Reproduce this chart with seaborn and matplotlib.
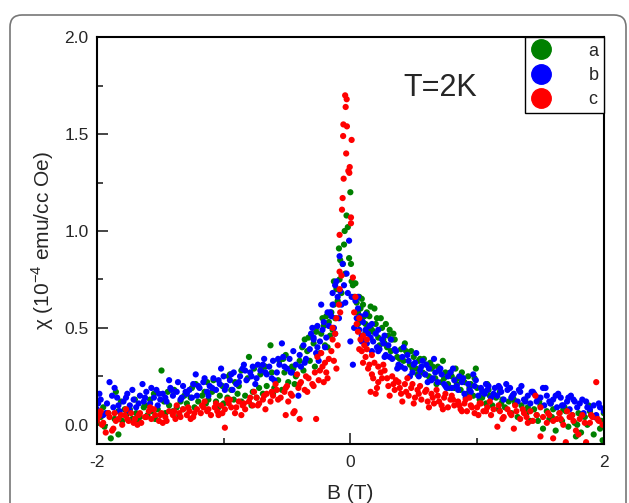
import matplotlib
matplotlib.use('Agg')
import matplotlib.pyplot as plt
from matplotlib.lines import Line2D
from matplotlib.patches import FancyBboxPatch
from matplotlib.transforms import IdentityTransform
from matplotlib.ticker import MultipleLocator
import pandas as pd
import seaborn as sns

# sample a (green) --------------------------------------------------------
a_B_left = [-2.00, -1.97, -1.94, -1.91, -1.89, -1.86, -1.83, -1.80, -1.77, -1.74,
            -1.72, -1.69, -1.66, -1.63, -1.60, -1.57, -1.54, -1.52, -1.49, -1.46,
            -1.43, -1.40, -1.37, -1.34, -1.32, -1.29, -1.26, -1.23, -1.20, -1.17,
            -1.14, -1.12, -1.09, -1.06, -1.03, -1.00, -0.97, -0.94, -0.92, -0.89,
            -0.86, -0.83, -0.80, -0.77, -0.74, -0.72, -0.69, -0.66, -0.63, -0.60,
            -0.57, -0.54, -0.52, -0.49, -0.46, -0.43, -0.40, -0.37, -0.34, -0.32,
            -0.29, -0.26, -0.23, -0.20, -0.17]
a_chi_left = [0.01, 0.04, -0.01, 0.06, -0.07, 0.03, 0.07, 0.02, 0.05, 0.08,
              0.03, 0.06, 0.04, 0.09, 0.05, 0.07, 0.03, 0.08, 0.28, 0.06,
              0.10, 0.07, 0.09, 0.12, 0.08, 0.11, 0.14, 0.09, 0.12, 0.15,
              0.11, 0.13, 0.17, 0.12, 0.15, 0.11, 0.14, 0.18, 0.13, 0.16,
              0.12, 0.15, 0.35, 0.17, 0.14, 0.19, 0.16, 0.20, 0.41, 0.19,
              0.23, 0.18, 0.27, 0.22, 0.30, 0.25, 0.33, 0.28, 0.38, 0.33,
              0.42, 0.36, 0.47, 0.41, 0.53]
a_B_upper = [-1.85, -1.78, -1.70, -1.62, -1.55, -1.47, -1.39, -1.31, -1.22, -1.15,
             -1.08, -1.01, -0.95, -0.91, -0.86, -0.81, -0.76, -0.71, -0.67, -0.62,
             -0.56, -0.51, -0.45, -0.38, -0.33, -0.27, -0.21, -1.83]
a_chi_upper = [0.17, 0.08, 0.13, 0.10, 0.16, 0.12, 0.18, 0.15, 0.21, 0.17,
               0.23, 0.20, 0.26, 0.22, 0.28, 0.24, 0.29, 0.26, 0.30, 0.27,
               0.33, 0.36, 0.29, 0.40, 0.45, 0.48, 0.51, -0.05]
a_B_mid = [-0.15, -0.14, -0.13, -0.12, -0.11, -0.10, -0.09, -0.085, -0.08, -0.07,
           -0.06, -0.05, -0.045, -0.04, -0.03, -0.02, -0.01, 0.00, 0.005, 0.01,
           0.02, 0.03, 0.04, 0.05, 0.06, 0.07, 0.08, 0.09, 0.10, 0.11,
           0.12, 0.13, 0.14]
a_chi_mid = [0.58, 0.49, 0.62, 0.55, 0.70, 0.64, 0.91, 0.75, 0.85, 0.68,
             0.83, 0.93, 1.00, 0.78, 1.08, 1.02, 0.86, 1.20, 0.83, 0.74,
             0.72, 0.66, 0.73, 0.63, 0.58, 0.66, 0.60, 0.54, 0.62, 0.56,
             0.52, 0.58, 0.50]
a_B_right = [0.15, 0.17, 0.20, 0.22, 0.25, 0.27, 0.30, 0.32, 0.35, 0.37,
             0.40, 0.42, 0.45, 0.47, 0.50, 0.52, 0.55, 0.57, 0.60, 0.62,
             0.65, 0.67, 0.70, 0.72, 0.75, 0.77, 0.80, 0.82, 0.85, 0.87,
             0.90, 0.92, 0.95, 0.97, 1.00, 1.02, 1.05, 1.07, 1.10, 1.12,
             1.15, 1.17, 1.20, 1.22, 1.25, 1.27, 1.30, 1.32, 1.35, 1.37,
             1.40, 1.42, 1.45, 1.47, 1.50, 1.52, 1.55, 1.57, 1.60, 1.62,
             1.65, 1.67, 1.70, 1.72, 1.75, 1.77, 1.80, 1.82, 1.85, 1.87,
             1.90, 1.92, 1.95, 1.97, 2.00]
a_chi_right = [0.56, 0.49, 0.52, 0.45, 0.50, 0.42, 0.46, 0.38, 0.44, 0.35,
               0.39, 0.33, 0.37, 0.31, 0.35, 0.29, 0.34, 0.27, 0.31, 0.25,
               0.30, 0.24, 0.28, 0.22, 0.27, 0.21, 0.25, 0.19, 0.24, 0.18,
               0.22, 0.16, 0.21, 0.15, 0.19, 0.13, 0.17, 0.11, 0.15, 0.10,
               0.14, 0.08, 0.13, 0.09, 0.12, 0.06, 0.11, 0.04, 0.10, 0.07,
               0.09, 0.02, 0.08, 0.05, 0.10, -0.02, 0.07, 0.03, 0.08, -0.03,
               0.06, 0.02, 0.07, -0.01, 0.05, 0.01, 0.06, -0.04, 0.04, 0.00,
               0.05, -0.05, 0.03, -0.02, 0.06]
a_B_right2 = [0.18, 0.24, 0.29, 0.34, 0.39, 0.44, 0.49, 0.54, 0.59, 0.64,
              0.69, 0.74, 0.79, 0.84, 0.89, 0.94, 0.99, 1.04, 1.09, 1.19,
              1.29, 1.39, 1.49, 1.59, 1.69, 1.79, 1.89, 1.99]
a_chi_right2 = [0.48, 0.55, 0.40, 0.47, 0.34, 0.38, 0.29, 0.33, 0.26, 0.29,
                0.30, 0.24, 0.27, 0.21, 0.24, 0.19, 0.29, 0.14, 0.18, 0.11,
                0.13, 0.06, 0.12, 0.04, 0.09, 0.00, 0.07, -0.08]
a_B_extra = [-1.95, -1.81, -1.68, -1.58, -1.44, -1.35, -1.25, -1.13, -1.04, -0.96,
             -0.88, -0.78, -0.70, -0.61, -0.53, -0.44, -0.36, -0.28, -0.22, -0.18,
             0.19, 0.23, 0.28, 0.33, 0.38, 0.43, 0.48, 0.53, 0.58, 0.63,
             0.68, 0.73, 0.78, 0.83, 0.88, 0.93, 0.98, 1.08, 1.18, 1.28,
             1.38, 1.48, 1.58, 1.68, 1.78, 1.88, 1.98,
             -0.27, -0.24, -0.19, -0.16, -0.13, 0.06, 0.09, 0.12, 0.16, 0.21,
             0.26, 0.31]
a_chi_extra = [0.09, 0.12, 0.02, 0.13, 0.17, 0.05, 0.19, 0.22, 0.09, 0.25,
               0.20, 0.10, 0.29, 0.16, 0.34, 0.21, 0.44, 0.30, 0.55, 0.40,
               0.60, 0.41, 0.52, 0.44, 0.30, 0.42, 0.38, 0.26, 0.34, 0.32,
               0.21, 0.33, 0.19, 0.29, 0.27, 0.25, 0.24, 0.21, 0.17, 0.15,
               0.13, 0.02, 0.11, 0.08, -0.06, 0.10, 0.02,
               0.50, 0.37, 0.56, 0.46, 0.74, 0.52, 0.65, 0.48, 0.61, 0.55,
               0.44, 0.49]

# sample b (blue) ---------------------------------------------------------
b_B_left = [-2.00, -1.97, -1.95, -1.92, -1.90, -1.87, -1.84, -1.82, -1.79, -1.76,
            -1.74, -1.71, -1.69, -1.66, -1.63, -1.61, -1.58, -1.55, -1.53, -1.50,
            -1.48, -1.45, -1.42, -1.40, -1.37, -1.34, -1.32, -1.29, -1.27, -1.24,
            -1.21, -1.19, -1.16, -1.13, -1.11, -1.08, -1.06, -1.03, -1.00, -0.98,
            -0.95, -0.92, -0.90, -0.87, -0.85, -0.82, -0.79, -0.77, -0.74, -0.71,
            -0.69, -0.66, -0.64, -0.61, -0.58, -0.56, -0.53, -0.50, -0.48, -0.45,
            -0.43, -0.40, -0.37, -0.35, -0.32, -0.29, -0.27, -0.24, -0.22, -0.19,
            -0.17]
b_chi_left = [0.08, 0.13, 0.05, 0.11, 0.22, 0.09, 0.14, 0.07, 0.12, 0.16,
              0.10, 0.13, 0.09, 0.15, 0.12, 0.17, 0.11, 0.14, 0.18, 0.13,
              0.16, 0.12, 0.19, 0.15, 0.17, 0.13, 0.20, 0.16, 0.18, 0.21,
              0.15, 0.19, 0.22, 0.17, 0.20, 0.24, 0.18, 0.21, 0.25, 0.20,
              0.23, 0.27, 0.21, 0.25, 0.29, 0.23, 0.27, 0.30, 0.24, 0.28,
              0.31, 0.26, 0.30, 0.33, 0.27, 0.31, 0.35, 0.29, 0.34, 0.38,
              0.31, 0.36, 0.41, 0.34, 0.39, 0.44, 0.37, 0.43, 0.49, 0.45,
              0.51]
b_B_left2 = [-1.99, -1.93, -1.88, -1.83, -1.77, -1.72, -1.67, -1.62, -1.57, -1.51,
             -1.46, -1.41, -1.36, -1.30, -1.25, -1.20, -1.15, -1.09, -1.04, -0.99,
             -0.94, -0.88, -0.83, -0.78, -0.73, -0.67, -0.62, -0.57, -0.52, -0.46,
             -0.41, -0.36, -0.31, -0.26, -0.21, -0.16]
b_chi_left2 = [0.11, 0.06, 0.15, 0.10, 0.14, 0.18, 0.11, 0.14, 0.19, 0.16,
               0.14, 0.18, 0.22, 0.17, 0.14, 0.20, 0.24, 0.19, 0.23, 0.18,
               0.26, 0.22, 0.28, 0.25, 0.31, 0.27, 0.24, 0.34, 0.30, 0.27,
               0.15, 0.32, 0.47, 0.40, 0.53, 0.58]
b_B_mid = [-0.15, -0.14, -0.13, -0.12, -0.11, -0.10, -0.09, -0.085, -0.08, -0.07,
           -0.06, -0.05, -0.04, -0.03, -0.02, -0.01, 0.00, 0.01, 0.02, 0.03,
           0.04, 0.05, 0.06, 0.07, 0.08, 0.09, 0.10, 0.11, 0.12, 0.13,
           0.14]
b_chi_mid = [0.56, 0.62, 0.50, 0.72, 0.74, 0.66, 0.55, 0.87, 0.69, 0.62,
             0.83, 0.72, 0.63, 0.78, 0.68, 0.95, 0.43, 0.66, 0.31, 0.50,
             0.64, 0.55, 0.60, 0.49, 0.56, 0.46, 0.53, 0.44, 0.49, 0.42,
             0.47]
b_B_right = [0.15, 0.18, 0.20, 0.23, 0.25, 0.28, 0.30, 0.33, 0.36, 0.38,
             0.41, 0.43, 0.46, 0.49, 0.51, 0.54, 0.56, 0.59, 0.62, 0.64,
             0.67, 0.69, 0.72, 0.75, 0.77, 0.80, 0.82, 0.85, 0.88, 0.90,
             0.93, 0.95, 0.98, 1.01, 1.03, 1.06, 1.08, 1.11, 1.14, 1.16,
             1.19, 1.21, 1.24, 1.27, 1.29, 1.32, 1.34, 1.37, 1.40, 1.42,
             1.45, 1.47, 1.50, 1.53, 1.55, 1.58, 1.60, 1.63, 1.66, 1.68,
             1.71, 1.73, 1.76, 1.79, 1.81, 1.84, 1.86, 1.89, 1.92, 1.94,
             1.97, 2.00]
b_chi_right = [0.51, 0.43, 0.47, 0.39, 0.44, 0.36, 0.41, 0.34, 0.38, 0.31,
               0.35, 0.29, 0.33, 0.27, 0.32, 0.25, 0.30, 0.26, 0.29, 0.23,
               0.27, 0.22, 0.26, 0.20, 0.25, 0.19, 0.23, 0.18, 0.22, 0.16,
               0.21, 0.17, 0.20, 0.15, 0.19, 0.16, 0.18, 0.14, 0.19, 0.15,
               0.17, 0.13, 0.18, 0.14, 0.16, 0.12, 0.17, 0.13, 0.15, 0.11,
               0.16, 0.12, 0.14, 0.10, 0.15, 0.11, 0.13, 0.09, 0.14, 0.10,
               0.12, 0.08, 0.13, 0.09, 0.11, 0.06, 0.12, 0.08, 0.10, 0.05,
               0.09, 0.07]
b_B_right2 = [0.16, 0.21, 0.26, 0.31, 0.35, 0.40, 0.45, 0.50, 0.55, 0.60,
              0.65, 0.70, 0.74, 0.79, 0.84, 0.89, 0.94, 0.99, 1.04, 1.09,
              1.13, 1.18, 1.23, 1.28, 1.33, 1.38, 1.43, 1.48, 1.52, 1.57,
              1.62, 1.67, 1.72, 1.77, 1.87, 1.96]
b_chi_right2 = [0.45, 0.40, 0.42, 0.35, 0.39, 0.30, 0.36, 0.31, 0.28, 0.31,
                0.24, 0.28, 0.21, 0.27, 0.20, 0.24, 0.18, 0.23, 0.17, 0.20,
                0.16, 0.19, 0.21, 0.15, 0.18, 0.12, 0.17, 0.14, 0.19, 0.12,
                0.15, 0.10, 0.14, 0.12, 0.09, 0.11]
b_B_extra = [-1.98, -1.86, -1.74, -1.64, -1.52, -1.43, -1.33, -1.22, -1.12, -1.02,
             -0.93, -0.84, -0.75, -0.68, -0.60, -0.54, -0.47, -0.39, -0.30, -0.25,
             0.17, 0.22, 0.27, 0.32, 0.37, 0.42, 0.47, 0.52, 0.57, 0.61,
             0.66, 0.71, 0.76, 0.81, 0.86, 0.91, 0.97, 1.07, 1.17, 1.26,
             1.35, 1.44, 1.54, 1.64, 1.74, 1.83, 1.93,
             -0.29, -0.26, -0.23, -0.20, -0.18, -0.14, -0.12, 0.06, 0.09, 0.12,
             0.17, 0.22, 0.27]
b_chi_extra = [0.16, 0.19, 0.07, 0.21, 0.10, 0.23, 0.14, 0.26, 0.15, 0.29,
               0.18, 0.31, 0.21, 0.34, 0.23, 0.42, 0.27, 0.30, 0.50, 0.33,
               0.38, 0.49, 0.35, 0.44, 0.29, 0.40, 0.25, 0.37, 0.33, 0.22,
               0.34, 0.29, 0.19, 0.29, 0.25, 0.14, 0.26, 0.21, 0.20, 0.19,
               0.20, 0.17, 0.19, 0.16, 0.15, 0.13, 0.04,
               0.45, 0.51, 0.62, 0.40, 0.58, 0.68, 0.47, 0.66, 0.43, 0.57,
               0.52, 0.38, 0.46]

# sample c (red) ----------------------------------------------------------
c_B_left = [-2.00, -1.98, -1.95, -1.93, -1.90, -1.88, -1.86, -1.83, -1.80, -1.78,
            -1.75, -1.73, -1.70, -1.67, -1.65, -1.62, -1.59, -1.57, -1.54, -1.51,
            -1.49, -1.46, -1.43, -1.40, -1.38, -1.35, -1.32, -1.29, -1.27, -1.24,
            -1.21, -1.18, -1.16, -1.13, -1.10, -1.07, -1.05, -1.02, -0.99, -0.96,
            -0.94, -0.91, -0.88, -0.85, -0.83, -0.80, -0.77, -0.74, -0.72, -0.69,
            -0.66, -0.63, -0.61, -0.58, -0.55, -0.52, -0.50, -0.47, -0.44, -0.41,
            -0.39, -0.36, -0.33, -0.30, -0.28, -0.25, -0.22, -0.19, -0.17]
c_chi_left = [0.02, 0.05, 0.01, -0.04, 0.04, -0.03, 0.06, 0.03, 0.00, 0.05,
              0.02, 0.06, 0.03, 0.05, 0.01, 0.04, 0.07, 0.03, 0.05, 0.02,
              0.06, 0.04, 0.07, 0.05, 0.03, 0.06, 0.08, 0.05, 0.07, 0.04,
              0.08, 0.06, 0.09, 0.07, 0.05, 0.09, 0.07, 0.10, 0.08, 0.11,
              0.09, 0.06, 0.12, 0.10, 0.08, 0.12, 0.10, 0.14, 0.11, 0.13,
              0.16, 0.12, 0.15, 0.18, 0.14, 0.17, 0.20, 0.16, 0.07, 0.19,
              0.22, 0.18, 0.24, 0.21, 0.27, 0.23, 0.30, 0.27, 0.34]
c_B_left2 = [-1.99, -1.96, -1.91, -1.85, -1.81, -1.76, -1.71, -1.66, -1.61, -1.55,
             -1.50, -1.45, -1.39, -1.34, -1.28, -1.23, -1.17, -1.12, -1.06, -1.01,
             -0.95, -0.90, -0.84, -0.79, -0.73, -0.68, -0.62, -0.57, -0.51, -0.46,
             -0.40, -0.35, -0.29, -0.24, -0.20, -0.40, -0.27, -0.51, -0.45, -0.99]
c_chi_left2 = [0.04, 0.00, 0.06, 0.02, 0.05, 0.03, 0.01, 0.06, 0.04, 0.08,
               0.05, 0.02, 0.07, 0.04, 0.09, 0.06, 0.10, 0.08, 0.11, 0.06,
               0.13, 0.09, 0.11, 0.14, 0.10, 0.15, 0.17, 0.13, 0.19, 0.15,
               0.21, 0.25, 0.20, 0.28, 0.32, 0.03, 0.03, 0.05, 0.06, -0.015]
c_B_mid = [-0.15, -0.14, -0.13, -0.12, -0.11, -0.10, -0.09, -0.085, -0.08, -0.07,
           -0.085, -0.085, -0.066, -0.061, -0.057, -0.055, -0.053, -0.041, -0.037, -0.033,
           -0.029, -0.027, -0.016, -0.008, -0.005, 0.005, 0.005, 0.01, 0.02, 0.03,
           0.04, 0.05, 0.06, 0.07, 0.08, 0.09, 0.10, 0.11, 0.12, 0.13,
           0.14]
c_chi_mid = [0.38, 0.44, 0.33, 0.47, 0.55, 0.41, 0.62, 0.70, 0.58, 0.77,
             0.98, 0.79, 1.11, 1.17, 1.49, 1.55, 1.27, 1.70, 1.64, 1.40,
             1.68, 1.54, 1.31, 1.30, 1.33, 1.07, 1.04, 1.47, 0.76, 0.58,
             0.66, 0.52, 0.48, 0.55, 0.44, 0.38, 0.46, 0.41, 0.35, 0.39,
             0.29]
c_B_right = [0.15, 0.17, 0.20, 0.22, 0.25, 0.27, 0.30, 0.33, 0.35, 0.38,
             0.40, 0.43, 0.46, 0.48, 0.51, 0.53, 0.56, 0.59, 0.61, 0.64,
             0.66, 0.69, 0.72, 0.74, 0.77, 0.79, 0.82, 0.85, 0.87, 0.90,
             0.92, 0.95, 0.98, 1.00, 1.03, 1.05, 1.08, 1.11, 1.13, 1.16,
             1.18, 1.21, 1.24, 1.26, 1.29, 1.31, 1.34, 1.37, 1.39, 1.42,
             1.44, 1.47, 1.50, 1.52, 1.55, 1.57, 1.60, 1.63, 1.65, 1.68,
             1.70, 1.73, 1.76, 1.78, 1.81, 1.83, 1.86, 1.89, 1.91, 1.94,
             1.96, 1.99]
c_chi_right = [0.31, 0.36, 0.16, 0.30, 0.24, 0.28, 0.20, 0.25, 0.18, 0.22,
               0.16, 0.21, 0.15, 0.19, 0.14, 0.18, 0.13, 0.17, 0.12, 0.16,
               0.11, 0.15, 0.10, 0.14, 0.09, 0.13, 0.10, 0.12, 0.08, 0.11,
               0.07, 0.10, 0.06, 0.09, 0.11, 0.07, 0.09, 0.05, 0.08, -0.01,
               0.07, 0.04, 0.08, 0.06, -0.02, 0.07, 0.03, 0.06, 0.04, 0.07,
               0.02, 0.05, -0.06, 0.04, 0.01, 0.05, -0.07, 0.03, 0.06, 0.00,
               -0.09, 0.04, 0.02, -0.03, 0.03, 0.05, -0.09, 0.01, 0.04, 0.22,
               0.02, 0.00]
c_B_right2 = [0.16, 0.19, 0.24, 0.29, 0.34, 0.39, 0.44, 0.49, 0.54, 0.60,
              0.65, 0.70, 0.75, 0.81, 0.86, 0.91, 0.96, 1.02, 1.07, 1.17,
              1.27, 1.36, 1.46, 1.56, 1.66, 1.75, 1.85, 1.95]
c_chi_right2 = [0.17, 0.32, 0.27, 0.24, 0.21, 0.19, 0.17, 0.21, 0.16, 0.18,
                0.14, 0.12, 0.16, 0.13, 0.10, 0.13, 0.09, 0.11, 0.07, 0.10,
                0.05, 0.08, 0.15, 0.06, 0.03, 0.05, 0.01, 0.03]
c_B_extra = [-1.97, -1.87, -1.77, -1.68, -1.58, -1.48, -1.37, -1.26, -1.15, -1.04,
             -0.97, -0.86, -0.76, -0.67, -0.59, -0.49, -0.42, -0.34, -0.26, -0.21,
             0.18, 0.21, 0.26, 0.31, 0.36, 0.41, 0.45, 0.50, 0.55, 0.62,
             0.68, 0.73, 0.80, 0.88, 0.94, 1.01, 1.10, 1.20, 1.30, 1.40,
             1.50, 1.60, 1.71, 1.80, 1.90,
             -0.23, -0.18, -0.14, -0.11, 0.07, 0.10, 0.13, 0.17, 0.22]
c_chi_extra = [0.07, -0.02, 0.08, 0.00, 0.09, 0.01, 0.10, 0.03, 0.12, 0.05,
               0.13, 0.05, 0.17, 0.08, 0.21, 0.12, 0.26, 0.17, 0.35, 0.22,
               0.24, 0.19, 0.31, 0.15, 0.23, 0.12, 0.24, 0.11, 0.20, 0.09,
               0.18, 0.08, 0.15, 0.07, 0.14, 0.05, 0.12, 0.03, 0.10, 0.01,
               0.09, 0.02, 0.07, -0.05, 0.05,
               0.37, 0.24, 0.50, 0.29, 0.39, 0.32, 0.44, 0.26, 0.22]

samples = ['a', 'b', 'c']
colors = {'a': '#008000', 'b': '#0000ff', 'c': '#ff0000'}

df = pd.concat([
    pd.DataFrame({'B': a_B_left + a_B_upper + a_B_mid + a_B_right + a_B_right2 + a_B_extra,
                  'chi': a_chi_left + a_chi_upper + a_chi_mid + a_chi_right + a_chi_right2 + a_chi_extra,
                  'sample': 'a'}),
    pd.DataFrame({'B': b_B_left + b_B_left2 + b_B_mid + b_B_right + b_B_right2 + b_B_extra,
                  'chi': b_chi_left + b_chi_left2 + b_chi_mid + b_chi_right + b_chi_right2 + b_chi_extra,
                  'sample': 'b'}),
    pd.DataFrame({'B': c_B_left + c_B_left2 + c_B_mid + c_B_right + c_B_right2 + c_B_extra,
                  'chi': c_chi_left + c_chi_left2 + c_chi_mid + c_chi_right + c_chi_right2 + c_chi_extra,
                  'sample': 'c'}),
], ignore_index=True)

sns.set_style('ticks')
plt.rcParams['font.family'] = ['Liberation Sans', 'DejaVu Sans']
plt.rcParams['mathtext.fontset'] = 'custom'
plt.rcParams['mathtext.rm'] = 'Liberation Sans'
plt.rcParams['axes.unicode_minus'] = False

fig = plt.figure(figsize=(6.29, 5.03), dpi=100)
ax = fig.add_axes([0.154, 0.117, 0.806, 0.809])

sns.scatterplot(data=df, x='B', y='chi', hue='sample', hue_order=samples,
                palette=colors, s=20, linewidth=0, ax=ax, legend=False)

ax.set_xlim(-2, 2)
ax.set_ylim(-0.1, 2.0)
ax.set_xticks([-2, 0, 2])
ax.xaxis.set_minor_locator(MultipleLocator(1))
ax.yaxis.set_major_locator(MultipleLocator(0.5))
ax.yaxis.set_minor_locator(MultipleLocator(0.25))
ax.tick_params(which='major', direction='in', length=8, width=1.2,
               top=False, right=False, labelsize=12.5, pad=6)
ax.tick_params(axis='x', which='major', pad=8)
ax.tick_params(which='minor', direction='in', length=4, width=1.2,
               top=False, right=False)
for sp in ax.spines.values():
    sp.set_linewidth(1.5)
    sp.set_color('black')

ax.set_xlabel('B (T)', fontsize=15, labelpad=10)
ax.set_ylabel('\u03c7 (10$^{-4}$ emu/cc Oe)', fontsize=15, labelpad=6)
ax.text(0.71, 1.74, 'T=2K', fontsize=22, ha='center', va='center')

handles = [Line2D([], [], marker='o', linestyle='', markersize=14,
                  markerfacecolor=colors[k], markeredgecolor=colors[k]) for k in samples]
leg = ax.legend(handles, samples, loc='upper right', borderaxespad=0,
                fancybox=False, edgecolor='black', fontsize=13,
                handletextpad=2.0, handlelength=1.2, borderpad=0.3,
                labelspacing=0.4, framealpha=1)
leg.get_frame().set_linewidth(1.0)

# rounded panel frame
fig.add_artist(FancyBboxPatch((10, -30), 616, 518,
                              boxstyle='round,pad=0,rounding_size=12',
                              transform=IdentityTransform(), fill=False,
                              edgecolor='#777777', linewidth=1.2))

fig.savefig('out.png', dpi=100)
